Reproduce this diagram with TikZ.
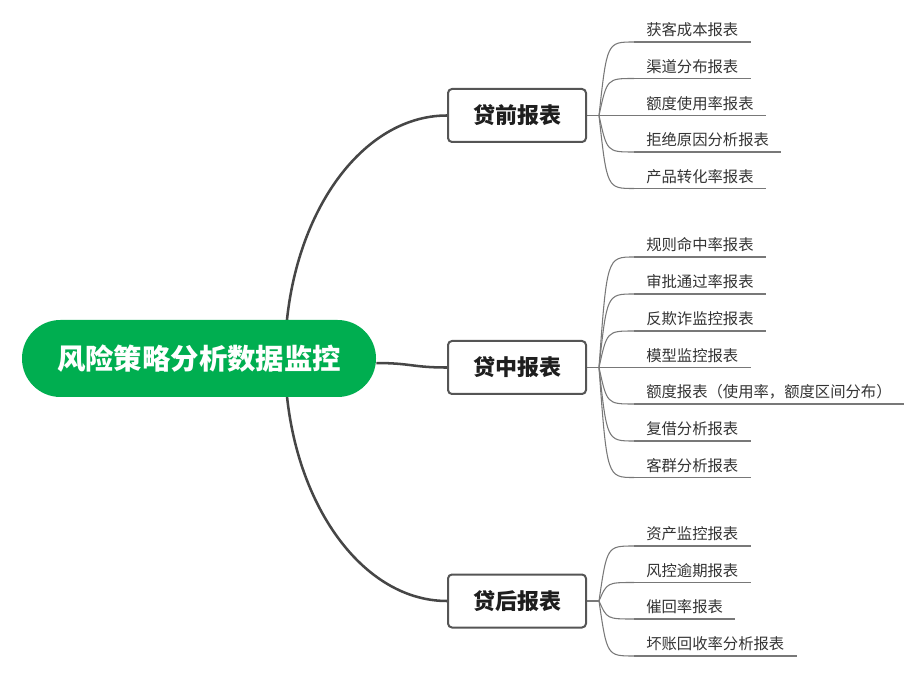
\documentclass[tikz,border=0pt]{standalone}
\usepackage{fontspec}
\setmainfont{Noto Sans CJK SC}
\usetikzlibrary{backgrounds}
\definecolor{rootgreen}{RGB}{0,174,80}
\definecolor{trunkgray}{RGB}{70,70,70}
\definecolor{boxgray}{RGB}{85,85,85}
\definecolor{twiggray}{RGB}{120,120,120}
\definecolor{leaftext}{RGB}{51,51,51}
\definecolor{branchtext}{RGB}{30,30,30}
\begin{document}
\begin{tikzpicture}[x=0.75pt,y=-0.75pt,
  rootnode/.style={fill=rootgreen,draw=none,rounded corners=28.8pt,minimum width=265.5pt,minimum height=57.75pt,inner sep=0pt,text=white,font=\fontsize{21.3}{24}\selectfont\bfseries},
  branchnode/.style={draw=boxgray,line width=1.5pt,rounded corners=3pt,fill=white,minimum width=103.5pt,minimum height=39.75pt,inner sep=0pt,text=branchtext,font=\fontsize{16.5}{19}\selectfont\bfseries},
  leafnode/.style={anchor=south west,inner xsep=9pt,inner ysep=4.6pt,text depth=0pt,text=leaftext,font=\fontsize{11.5}{13}\selectfont},
  trunk/.style={draw=trunkgray,line width=1.9pt},
  twig/.style={draw=twiggray,line width=0.8pt},
  underline/.style={draw=twiggray,line width=0.8pt}]
\useasboundingbox (0,0) rectangle (921,673);

% root
\node[rootnode] (root) at (199,358.5) {风险策略分析数据监控};
\coordinate (rs) at (285,358);
\coordinate (re) at ([yshift=-3.4pt]root.east);

% branches
\node[branchnode] (b1) at (517,115.5) {贷前报表};
\node[branchnode] (b2) at (517,367.5) {贷中报表};
\node[branchnode] (b3) at (517,601) {贷后报表};

% leaves of b1
\node[leafnode] (l11) at (634,42) {获客成本报表};
\node[leafnode] (l12) at (634,78.5) {渠道分布报表};
\node[leafnode] (l13) at (634,115.5) {额度使用率报表};
\node[leafnode] (l14) at (634,152) {拒绝原因分析报表};
\node[leafnode] (l15) at (634,188.5) {产品转化率报表};

% leaves of b2
\node[leafnode] (l21) at (634,257) {规则命中率报表};
\node[leafnode] (l22) at (634,294) {审批通过率报表};
\node[leafnode] (l23) at (634,331) {反欺诈监控报表};
\node[leafnode] (l24) at (634,367.5) {模型监控报表};
\node[leafnode] (l25) at (634,404) {额度报表（使用率，额度区间分布）};
\node[leafnode] (l26) at (634,441) {复借分析报表};
\node[leafnode] (l27) at (634,477.5) {客群分析报表};

% leaves of b3
\node[leafnode] (l31) at (634,546) {资产监控报表};
\node[leafnode] (l32) at (634,582.5) {风控逾期报表};
\node[leafnode] (l33) at (634,619) {催回率报表};
\node[leafnode] (l34) at (634,656) {坏账回收率分析报表};

\coordinate (f1) at ([xshift=9pt]b1.east);
\coordinate (f2) at ([xshift=9pt]b2.east);
\coordinate (f3) at ([xshift=9pt]b3.east);
\coordinate (f1c) at ([xshift=6pt]f1);
\coordinate (f2c) at ([xshift=6pt]f2);
\coordinate (f3c) at ([xshift=6pt]f3);

\begin{scope}[on background layer]
  % trunk connectors
  \draw[trunk] (rs) .. controls (285,223) and (358,115.5) .. (b1.west);
  \draw[trunk] (re) .. controls +(35,0) and +(-35,0) .. (b2.west);
  \draw[trunk] (rs) .. controls (285,493) and (358,601) .. (b3.west);

  % twig stems
  \draw[twig] (b1.east) -- (f1);
  \draw[twig] (b2.east) -- (f2);
  \draw[twig] (b3.east) -- (f3);

  \foreach \l in {l11,l12,l13,l14,l15}{
    \draw[twig] (f1) .. controls (f1c |- \l.south west) .. (\l.south west);
    \draw[underline] (\l.south west) -- (\l.south east);
  }
  \foreach \l in {l21,l22,l23,l24,l25,l26,l27}{
    \draw[twig] (f2) .. controls (f2c |- \l.south west) .. (\l.south west);
    \draw[underline] (\l.south west) -- (\l.south east);
  }
  \foreach \l in {l31,l32,l33,l34}{
    \draw[twig] (f3) .. controls (f3c |- \l.south west) .. (\l.south west);
    \draw[underline] (\l.south west) -- (\l.south east);
  }
\end{scope}
\end{tikzpicture}
\end{document}
